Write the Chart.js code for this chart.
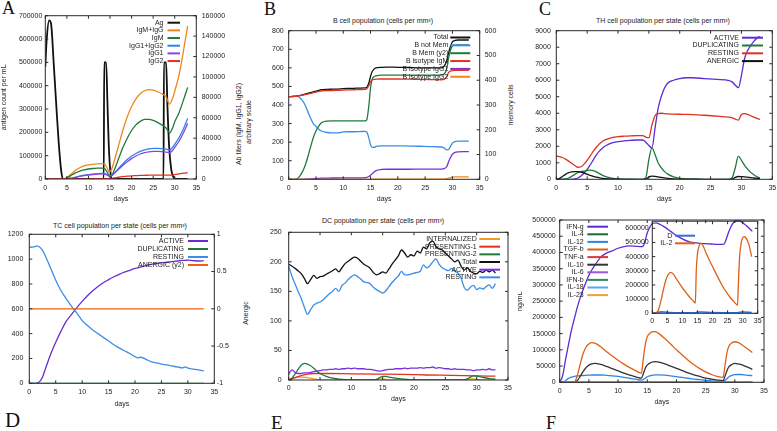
<!DOCTYPE html>
<html><head><meta charset="utf-8">
<script src="https://cdn.jsdelivr.net/npm/chart.js@4.4.0/dist/chart.umd.min.js"></script>
<style>
html,body{margin:0;padding:0;background:#fff;}
#wrap{position:relative;width:777px;height:431px;overflow:hidden;background:#fff;font-family:"Liberation Sans",Arial,sans-serif;color:#222;}
canvas{position:absolute;}
.lbl{position:absolute;font-family:"Liberation Serif","Times New Roman",serif;font-size:18px;line-height:18px;color:#111;}
.ttl{position:absolute;font-size:7px;white-space:nowrap;transform:translate(-50%,-50%);line-height:1;}
.rot{position:absolute;font-size:7px;white-space:nowrap;transform:translate(-50%,-50%) rotate(-90deg);line-height:1;}
</style></head><body><div id="wrap">
<div class="lbl" style="left:2px;top:-1px">A</div>
<div class="lbl" style="left:264px;top:0px">B</div>
<div class="lbl" style="left:539px;top:0px">C</div>
<div class="lbl" style="left:5px;top:410px;font-size:21px;line-height:21px">D</div>
<div class="lbl" style="left:271px;top:413px;font-size:19px;line-height:19px">E</div>
<div class="lbl" style="left:546px;top:414px">F</div>
<div class="ttl" style="left:383px;top:20px">B cell population (cells per mm³)</div>
<div class="ttl" style="left:663px;top:20px">TH cell population per state (cells per mm³)</div>
<div class="ttl" style="left:120px;top:225px">TC cell population per state (cells per mm³)</div>
<div class="ttl" style="left:383px;top:220px">DC population per state (cells per mm³)</div>
<div class="rot" style="left:238px;top:124px">Ab titers (IgM, IgG1, IgG2)</div>
<div class="rot" style="left:248px;top:122px">arbitrary scale</div>
<div class="rot" style="left:510px;top:105px">memory cells</div>
<div class="rot" style="left:245px;top:313px">Anergic</div>
</div>
<script>
// ---------- Panel A ----------
const abDays = [0,2,4,5,6,7,8,9,10,11,12,13,13.7,14.3,14.8,15.3,16,17,18,19,20,21,22,23,24,25,26,27,28,28.8,29.5,30,31,32,33];
const igmIgg = [0,0,0,1500,5000,8500,11000,12800,13800,14400,14800,15000,14800,11000,7000,9000,18000,33000,48000,61000,71000,78500,83500,86500,87500,87000,85500,83500,80500,73500,79000,86000,102000,125000,150000];
const igm    = [0,0,0,1000,3500,6000,7800,9000,9800,10300,10600,10700,10400,7000,4000,3500,9000,20000,31000,40000,47500,53000,56500,58500,58500,57500,55500,53000,50000,45000,50000,56000,65000,77000,89800];
const igg12  = [0,0,0,200,800,1800,2800,3700,4300,4800,5200,5500,5400,4300,3200,3400,6000,10500,15000,19000,22500,25000,27000,28500,29500,30000,30000,29800,29300,28400,31000,34000,40500,49000,59400];
const igg1   = [0,0,0,150,700,1600,2500,3300,3900,4400,4700,5000,4900,3900,2800,3000,5400,9500,13500,17000,20000,22500,24500,25800,26600,27000,27000,26800,26400,25700,28000,31000,37000,45000,54500];
const igg2   = [0,0,0,0,0,0,0,0,100,200,300,400,400,300,200,500,1000,1700,2300,2800,3100,3300,3500,3600,3700,3800,3800,3800,3800,3800,4000,4300,5000,5700,6300];
const agDays = [0,0.33,0.9,1.3,2,2.7,3.3,3.8,4.2,13.55,13.65,14.1,14.4,14.7,15,15.4,27.4,27.5,28,28.3,28.7,29.2,29.7,30.3,33];
const ag     = [480000,600000,680000,670000,480000,270000,110000,20000,0,0,500000,500000,330000,150000,50000,0,0,500000,500000,320000,140000,40000,8000,0,0];

// ---------- Panel B ----------
const bDays   = [0,1,1.5,2,2.5,3,3.5,4,4.5,5,5.5,6,7,8,9,10,11,12,13,14,14.3,14.7,15,15.3,15.7,16,17,18,20,22,24,26,28,28.5,29,29.3,29.7,30,30.5,31,32,33];
const bTotal  = [445,447,449,451,455,459,463,467,471,475,479,482,484,485,486,488,489,490,491,492,495,520,555,580,595,600,603,604,603,602,600,600,600,610,640,680,720,740,748,750,750,750];
const bNotMem = [445,446,448,440,425,400,365,330,300,285,270,260,252,250,250,255,256,256,257,258,255,220,185,172,172,177,180,180,180,179,178,176,174,168,158,160,180,195,203,205,205,205];
const bMem    = [0,0,2,12,30,55,90,130,168,195,215,228,235,236,236,236,236,236,236,236,240,300,370,405,415,418,421,421,421,421,421,421,421,425,450,490,525,538,542,543,543,543];
const bIgM    = [445,446,447,450,453,456,459,463,466,470,473,476,478,478,479,480,481,482,483,484,487,505,525,535,538,539,540,540,540,539,538,537,536,538,555,575,583,585,586,586,586,586];
const bIgG1   = [0,0,0,0,0,1,1,2,3,4,5,6,6,7,7,8,8,8,8,9,10,15,22,30,40,47,53,54,54,54,55,55,55,57,70,95,120,135,145,148,149,149];
const bIgG2   = [0,0,0,0,0,0,0,0,0,0,0,0,0,0,0,0,0,0,0,0,0,0,0,1,1,1,1,1,1,1,1,1,1,1,3,6,9,12,13,13,13,13];

// ---------- Panel C ----------
const cDays    = [0,0.5,1,1.5,2,2.5,3,3.5,4,4.5,5,5.5,6,6.5,7,7.5,8,9,10,11,12,13,14,14.5,15,15.5,16,16.5,17,17.5,18,19,20,21,22,24,26,28,28.5,29,29.5,30,30.5,31,31.5,32,32.5,33];
const cActive  = [0,0,0,0,0,0,20,80,200,380,600,880,1180,1480,1720,1900,2030,2200,2280,2330,2360,2380,2380,2250,2050,1900,3100,4300,5000,5500,5800,6000,6100,6150,6150,6100,6050,5980,5900,5700,5550,6300,7300,7800,8100,8350,8550,8650];
const cDup     = [0,0,0,20,80,180,300,400,460,500,540,560,530,450,340,240,160,70,25,8,3,0,0,100,1200,1900,1500,1000,700,480,330,150,60,25,10,0,0,0,100,700,1400,1150,850,620,420,280,160,80];
const cRest    = [1400,1380,1320,1220,1100,960,840,730,760,920,1150,1420,1700,1940,2150,2300,2400,2520,2580,2610,2630,2640,2650,2560,2520,3300,3850,3980,4000,3980,3960,3950,3940,3930,3920,3880,3830,3760,3720,3650,3580,3920,3980,3930,3850,3760,3690,3630];
const cAnergic = [0,50,170,300,400,450,470,470,440,380,310,240,180,130,90,60,40,15,5,0,0,0,0,10,150,190,180,150,110,80,60,30,15,8,5,0,0,0,10,120,170,160,150,130,100,80,60,40];

// ---------- Panel D ----------
const dDays    = [0,0.5,1,1.5,2,2.5,3,4,5,6,7,8,9,10,11,12,13,14,15,16,17,18,19,20,20.5,21,22,23,24,25,26,27,28,29,29.5,30,31,32,33];
const dActive  = [0,0,0,2,15,50,110,230,330,420,500,555,610,660,705,745,780,810,835,858,878,895,910,925,930,936,948,958,965,970,975,980,985,990,990,992,988,985,988];
const dRest    = [1095,1097,1100,1107,1095,1070,1030,930,830,745,680,620,565,505,465,430,400,370,340,310,285,262,240,215,205,210,195,175,165,155,148,140,132,125,132,122,115,108,100];
const flatDays = [0,33];
const dDup     = [0,0];
const dAnergic = [0,0];

// ---------- Panel E ----------
const eDays   = [0,0.5,1,1.5,2,2.5,3,3.5,4,4.5,5,5.5,6,6.5,7,7.5,8,8.5,9,9.5,10,10.5,11,11.5,12,12.5,13,13.5,14,14.5,15,15.5,16,16.5,17,17.5,18,18.5,19,19.5,20,20.5,21,21.5,22,22.5,23,23.5,24,24.5,25,25.5,26,26.5,27,27.5,28,28.5,29,29.5,30,30.5,31,31.5,32,32.5,33];
const eTotal  = [196,193,189,185,180,172,163,170,177,172,175,176,179,182,185,188,183,190,197,201,205,208,206,201,196,193,189,182,178,180,183,181,188,196,203,210,220,215,208,212,210,218,215,225,222,232,235,226,222,220,215,210,205,200,203,193,186,190,184,181,180,184,182,186,183,186,181];
const eRest   = [193,176,163,150,138,123,111,119,127,130,132,136,141,146,150,155,150,160,164,170,175,178,175,171,166,165,163,157,153,150,147,151,158,165,171,176,184,178,178,179,181,182,184,195,190,193,200,205,196,190,187,185,189,184,181,173,157,152,157,160,153,156,154,158,161,155,163];
const eActive = [10,17,13,11,11,12,12,13,14,15,16,17,17,18,18,19,18,19,19,20,19,20,19,19,19,18,18,17,16,15,16,17,18,18,19,19,19,20,19,20,20,20,21,20,21,21,22,20,21,20,19,19,18,19,18,18,18,17,17,16,17,17,18,17,19,17,17];
const ePres1Days = [0,1,2,3,4,6,10,14,18,22,26,30,33];
const ePres1     = [0,4,7.5,10,11,11,10.5,10,9.5,8.5,7.8,7,6.5];
const ePres2Days = [0,0.5,1,1.5,2,2.5,3,3.5,4,4.5,5,6,7,8,9,10,13.5,14,14.5,15,15.5,16,17,18,19,20,28,28.5,29,29.5,30,31,32,33];
const ePres2     = [0,3,10,18,25,28,27,24,20,15,11,6,3,1.5,0.5,0,0,1,4,6,6,5,3,2,1,0,0,2,5,7,6.5,4.5,2.5,1.5];
const eIntDays   = [0,0.5,1,1.5,2,2.5,3,3.5,4,4.5,5,14,14.5,15,15.5,16,28.5,29,29.5,30,30.5,31,33];
const eInt       = [0,2,4,5,5,4.5,4,3,2,1,0,0,2,2,1,0,0,2,2,1,0.5,0,0];

// ---------- Panel F ----------
const fDays  = [0,0.5,1,1.5,2,2.5,3,3.5,4,4.5,5,5.5,6,7,8,9,10,11,12,13,14,14.3,14.7,15,15.5,16,16.5,17,18,19,20,21,22,23,24,25,26,27,28,28.3,28.7,29,29.5,30,30.5,31,32,33];
const fIFNg  = [0,20000,70000,115000,160000,195000,230000,260000,285000,308000,330000,346000,360000,385000,398000,405000,413000,418000,420000,419000,418000,420000,440000,460000,480000,490000,491000,488000,478000,465000,452000,442000,434000,430000,428000,427000,426000,425000,425000,430000,450000,465000,485000,495000,498000,496000,482000,465000];
const fTGFb  = [0,0,0,0,0,0,20000,55000,88000,108000,118000,122000,121000,110000,95000,81000,68000,56000,45000,36000,28000,70000,120000,140000,152000,156000,155000,150000,135000,118000,100000,84000,68000,54000,42000,32000,24000,18000,15000,50000,95000,112000,122000,125000,123000,118000,105000,92000];
const fIL10  = [0,0,0,0,0,0,5000,18000,33000,45000,53000,57000,58000,55000,49000,42000,35000,28000,22000,17000,13000,25000,45000,53000,60000,63000,63500,62000,57000,50000,43000,36000,29000,23000,18000,13000,10000,7000,5000,18000,38000,48000,55000,58000,57000,55000,48000,40000];
const fIL12  = [0,0,5000,12000,16000,18000,19500,20500,21000,21500,22000,22500,22500,22500,21500,20000,18000,15500,12500,9500,7000,8000,13000,17000,20000,22000,23000,23000,22000,20000,17500,15000,12500,10000,8000,6000,4500,3500,3000,6000,12000,17000,21000,23500,24000,24000,22000,20500];
const fIL4 = [0,0], fTNFa = [0,0], fIL6 = [0,0], fIFNb = [0,0], fIL18 = [0,0], fIL23 = [0,0];

// ---------- Panel F inset ----------
const iDays = [0,1,1.5,2,2.5,3,3.5,4,4.5,5,5.5,6,6.5,7,8,9,10,11,12,13,14,14.3,14.6,15,15.5,16,16.5,17,18,19,20,21,22,23,24,25,26,27,28,28.3,28.6,29,29.5,30,30.5,31,32,33];
const iIL2  = [0,2000,6000,22000,58000,100000,150000,195000,235000,262000,280000,289000,286000,276000,243000,211000,180000,152000,124000,100000,78000,72000,300000,420000,472000,493000,488000,470000,418000,372000,330000,287000,245000,205000,168000,137000,108000,84000,62000,58000,220000,400000,495000,532000,541000,535000,490000,400000];
const iDDays = [0,1,2,3,4,6,10,14,15,16,20,28,29,30,33];
const iD     = [0,3000,8000,10000,9000,6000,4000,3000,8000,9000,5000,3000,7000,9000,6000];
const insetYTicks = [0,100000,200000,300000,400000,500000,600000];

// ---------- rendering ----------
const TXT = '#222';
const FAM = "'Liberation Sans', Arial, sans-serif";
const FS = 7;
Chart.defaults.font.family = FAM;
Chart.defaults.font.size = FS;
Chart.defaults.color = TXT;
const wrap = document.getElementById('wrap');

const C = {
  black:'#111111', orange:'#f0861a', dgreen:'#1f7a3a', blue:'#2f84e4', lblue:'#3a8ee6',
  purple:'#8a45e0', violet:'#5b2bd4', red:'#e2301f', tgf:'#de5f16', dark:'#333333'
};

function pts(xs, ys) { return xs.map((x, i) => ({x: x, y: ys[i]})); }
function line(label, xs, ys, color, axis, w) {
  return {label: label, data: pts(xs, ys), borderColor: color, backgroundColor: color,
    borderWidth: w || 1.3, yAxisID: axis || 'y', pointRadius: 0, fill: false,
    cubicInterpolationMode: 'monotone'};
}

const gnu = {
  id: 'gnu',
  afterDraw(chart, args, o) {
    const ctx = chart.ctx, a = chart.chartArea, S = chart.scales, T = 3;
    ctx.save();
    ctx.strokeStyle = '#2a2a2a'; ctx.lineWidth = 1;
    ctx.strokeRect(a.left, a.top, a.right - a.left, a.bottom - a.top);
    ctx.beginPath();
    S.x.ticks.forEach(t => { const p = S.x.getPixelForValue(t.value);
      ctx.moveTo(p, a.bottom); ctx.lineTo(p, a.bottom - T); ctx.moveTo(p, a.top); ctx.lineTo(p, a.top + T); });
    S.y.ticks.forEach(t => { const p = S.y.getPixelForValue(t.value);
      ctx.moveTo(a.left, p); ctx.lineTo(a.left + T, p);
      if (!S.y2) { ctx.moveTo(a.right, p); ctx.lineTo(a.right - T, p); } });
    if (S.y2) S.y2.ticks.forEach(t => { const p = S.y2.getPixelForValue(t.value);
      ctx.moveTo(a.right, p); ctx.lineTo(a.right - T, p); });
    ctx.stroke();
    const L = o && o.legend;
    if (L) {
      ctx.font = FS + 'px ' + FAM;
      ctx.textAlign = 'right'; ctx.textBaseline = 'middle';
      chart.data.datasets.forEach((d, i) => {
        const y = L.y + i * L.dy;
        ctx.fillStyle = TXT;
        ctx.fillText(d.label, L.x, y);
        ctx.strokeStyle = d.borderColor; ctx.lineWidth = 2;
        ctx.beginPath(); ctx.moveTo(L.x + L.gap, y); ctx.lineTo(L.x + L.gap + L.len, y); ctx.stroke();
      });
    }
    ctx.restore();
  }
};

function panel(p) {
  const [X, Y, W, H] = p.box;
  const a = p.area;
  const c = document.createElement('canvas');
  c.width = W; c.height = H;
  c.style.cssText = 'left:' + X + 'px;top:' + Y + 'px;width:' + W + 'px;height:' + H + 'px';
  wrap.appendChild(c);
  const tf = {family: FAM, size: FS};
  const yScale = (r, pos, pad, width, title, tickList) => {
    const s = {
      type: 'linear', position: pos, min: r[0], max: r[1],
      ticks: {stepSize: r[2], padding: pad, font: tf, color: TXT, includeBounds: false, autoSkip: false, callback: v => String(v)},
      grid: {display: false, drawTicks: false}, border: {display: false},
      title: title ? {display: true, text: title, font: tf, color: TXT, padding: {top: p.yTitlePad || 0, bottom: 0}} : {display: false},
      afterFit: sc => { sc.width = width; sc.paddingTop = 0; sc.paddingBottom = 0; }
    };
    if (tickList) s.afterBuildTicks = sc => { sc.ticks = tickList.map(v => ({value: v})); };
    return s;
  };
  const scales = {
    x: {type: 'linear', position: 'bottom', min: 0, max: 35,
      ticks: {stepSize: 5, padding: p.xPad, font: tf, color: TXT, autoSkip: false, maxRotation: 0, includeBounds: false, callback: v => String(v)},
      grid: {display: false, drawTicks: false}, border: {display: false},
      title: p.xTitle ? {display: true, text: p.xTitle, font: tf, color: TXT, padding: 0} : {display: false},
      afterFit: s => { s.height = H - a.b - p.pb; s.paddingLeft = 0; s.paddingRight = 0; }},
    y: yScale(p.y, 'left', p.yPad, a.l, p.yTitle, p.yTicks)
  };
  if (p.y2) scales.y2 = yScale(p.y2, 'right', p.y2Pad, W - a.r, null, null);
  return new Chart(c, {
    type: 'line',
    data: {datasets: p.datasets.map((d, i) => Object.assign(d, {order: -i}))},
    options: {
      responsive: false, animation: false, events: [],
      layout: {padding: {left: 0, top: a.t, right: p.y2 ? 0 : W - a.r, bottom: p.pb}},
      scales: scales,
      plugins: {legend: {display: false}, tooltip: {enabled: false}, gnu: {legend: p.legend}}
    },
    plugins: [gnu]
  });
}

// A
panel({box: [0, 0, 258, 215], area: {l: 45.3, t: 15.7, r: 196.3, b: 179}, pb: 11.5, xPad: 4.5,
  y: [0, 700000, 100000], yPad: 3, yTitle: 'antigen count per mL', y2: [0, 160000, 20000], y2Pad: 5.4, xTitle: 'days',
  legend: {x: 163.5, y: 22.7, dy: 7.67, gap: 4, len: 12.5},
  datasets: [
    line('Ag', agDays, ag, C.black, 'y', 1.8),
    line('IgM+IgG', abDays, igmIgg, C.orange, 'y2'),
    line('IgM', abDays, igm, C.dgreen, 'y2'),
    line('IgG1+IgG2', abDays, igg12, C.blue, 'y2'),
    line('IgG1', abDays, igg1, C.purple, 'y2'),
    line('IgG2', abDays, igg2, C.red, 'y2')
  ]});

// B
panel({box: [258, 0, 260, 215], area: {l: 30.7, t: 30.7, r: 221.7, b: 179.3}, pb: 11.5, xPad: 4.2,
  y: [0, 800, 100], yPad: 5, y2: [0, 600, 100], y2Pad: 5, xTitle: 'days',
  legend: {x: 190.3, y: 37.5, dy: 7.85, gap: 2, len: 20},
  datasets: [
    line('Total', bDays, bTotal, C.black),
    line('B not Mem', bDays, bNotMem, C.lblue),
    line('B Mem (y2)', bDays, bMem, C.dgreen, 'y2'),
    line('B isotype IgM', bDays, bIgM, C.red),
    line('B isotype IgG1', bDays, bIgG1, '#7a2ed6'),
    line('B isotype IgG2', bDays, bIgG2, C.orange)
  ]});

// C
panel({box: [518, 0, 259, 215], area: {l: 38.3, t: 30.7, r: 254.3, b: 179.3}, pb: 11.5, xPad: 4.2,
  y: [0, 9000, 1000], yPad: 5.5, xTitle: 'days',
  legend: {x: 221, y: 37.7, dy: 7.8, gap: 3, len: 21},
  datasets: [
    line('ACTIVE', cDays, cActive, C.violet),
    line('DUPLICATING', cDays, cDup, C.dgreen),
    line('RESTING', cDays, cRest, C.red),
    line('ANERGIC', cDays, cAnergic, C.black)
  ]});

// D
panel({box: [0, 215, 258, 216], area: {l: 29.3, t: 19.3, r: 214.3, b: 168.3}, pb: 22.8, xPad: 4.2,
  y: [0, 1200, 200], yPad: 6, y2: [-1, 1, 0.5], y2Pad: 2.5, xTitle: 'days',
  legend: {x: 184, y: 26, dy: 8, gap: 4, len: 20},
  datasets: [
    line('ACTIVE', dDays, dActive, '#6a2ccf'),
    line('DUPLICATING', flatDays, dDup, C.dgreen),
    line('RESTING', dDays, dRest, C.lblue),
    line('ANERGIC (y2)', flatDays, dAnergic, '#f0600f', 'y2')
  ]});

// E
panel({box: [258, 215, 260, 216], area: {l: 30.7, t: 17.3, r: 250, b: 165}, pb: 27.5, xPad: 4.1,
  y: [0, 250, 50], yPad: 7, xTitle: 'days',
  legend: {x: 218.7, y: 24, dy: 7.67, gap: 2.6, len: 20.7},
  datasets: [
    line('INTERNALIZED', eIntDays, eInt, '#f39a1f'),
    line('PRESENTING-1', ePres1Days, ePres1, C.red),
    line('PRESENTING-2', ePres2Days, ePres2, C.dgreen),
    line('Total', eDays, eTotal, C.black),
    line('ACTIVE', eDays, eActive, '#7a30e0'),
    line('RESTING', eDays, eRest, C.lblue)
  ]});

// F
panel({box: [518, 215, 259, 216], area: {l: 41.7, t: 5, r: 246, b: 167.3}, pb: 24.5, xPad: 4.2,
  y: [0, 500000, 50000], yPad: 4, yTitle: 'ng/mL', yTitlePad: -2, xTitle: 'days',
  legend: {x: 65.7, y: 11.7, dy: 7.6, gap: 3.6, len: 20.7},
  datasets: [
    line('IFN-g', fDays, fIFNg, C.violet),
    line('IL-4', flatDays, fIL4, '#1a6b35'),
    line('IL-12', fDays, fIL12, C.blue),
    line('TGF-b', fDays, fTGFb, C.tgf),
    line('TNF-a', flatDays, fTNFa, '#d93a3a'),
    line('IL-10', fDays, fIL10, C.dark),
    line('IL-6', flatDays, fIL6, '#9b59d9'),
    line('IFN-b', flatDays, fIFNb, '#2e8b57'),
    line('IL-18', flatDays, fIL18, '#5aa9f0'),
    line('IL-23', flatDays, fIL23, '#f0a040')
  ]});

// F inset
panel({box: [610, 215, 167, 115], area: {l: 42.3, t: 6.2, r: 147.7, b: 98.3}, pb: 0, xPad: 3.5,
  y: [0, 650000, 100000], yPad: 3.6, yTicks: insetYTicks,
  legend: {x: 62.3, y: 20.7, dy: 7.6, gap: 2.7, len: 20},
  datasets: [
    line('D', iDDays, iD, '#2d6fe0', 'y', 1.6),
    line('IL-2', iDays, iIL2, C.tgf)
  ]});
</script>
</body></html>
